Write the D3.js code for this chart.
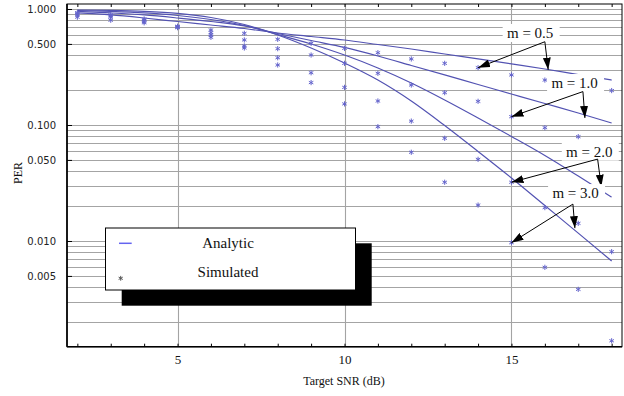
<!DOCTYPE html>
<html><head><meta charset="utf-8">
<script src="https://cdnjs.cloudflare.com/ajax/libs/d3/7.8.5/d3.min.js"></script>
<style>body{margin:0;background:#fff}svg{display:block}</style>
</head><body><svg id="c" width="624" height="396"></svg>
<script>
// ---------- data ----------
const snr = [2,3,4,5,6,7,8,9,10,11,12,13,14,15,16,17,18];
const mValues = ["0.5","1.0","2.0","3.0"];
const analytic05 = [0.924,0.888,0.836,0.780,0.728,0.679,0.621,0.579,0.540,0.494,0.452,0.409,0.371,0.336,0.304,0.272,0.244];
const analytic10 = [0.952,0.924,0.888,0.836,0.780,0.714,0.615,0.535,0.466,0.393,0.326,0.270,0.2234,0.185,0.1532,0.1269,0.1041];
const analytic20 = [0.971,0.952,0.924,0.879,0.812,0.721,0.603,0.499,0.401,0.310,0.230,0.1643,0.1149,0.0796,0.0546,0.0363,0.0239];
const analytic30 = [0.980,0.971,0.952,0.915,0.845,0.735,0.597,0.461,0.342,0.244,0.161,0.0990,0.0591,0.0349,0.0202,0.0117,0.00672];
const sim05 = [0.85,0.80,0.76,0.69,0.57,0.461,0.548,0.506,0.458,0.420,0.371,0.340,0.312,0.270,0.244,0.221,0.198];
const sim10 = [0.89,0.85,0.78,0.70,0.597,0.480,0.455,0.401,0.340,0.279,0.221,0.190,0.160,0.118,0.0948,0.0793,0.0633];
const sim20 = [0.91,0.87,0.80,0.70,0.625,0.541,0.380,0.282,0.211,0.161,0.108,0.0768,0.0506,0.0321,0.0194,0.0142,0.00809];
const sim30 = [0.93,0.89,0.82,0.71,0.659,0.617,0.329,0.232,0.152,0.0967,0.0582,0.0321,0.0204,0.00967,0.00593,0.00383,0.00138];
const xTickLabels = [5,10,15];
const yTickLabels = [1,0.5,0.1,0.05,0.01,0.005];
const legendLabels = ["Analytic","Simulated"];
// annotation: label position, arrow origin, tip on simulated point, tip on curve (data units)
const annotations = [
  {text:"m = 0.5", lx:15.56, ly:0.621, ox:16.0, oy:0.522, t1x:14, t1y:0.312, t2x:16.1, t2y:0.300},
  {text:"m = 1.0", lx:16.89, ly:0.230, ox:17.14, oy:0.194, t1x:15, t1y:0.118, t2x:17.2, t2y:0.115},
  {text:"m = 2.0", lx:17.33, ly:0.0589, ox:17.58, oy:0.0508, t1x:15, t1y:0.0321, t2x:17.69, t2y:0.0294},
  {text:"m = 3.0", lx:16.92, ly:0.0259, ox:16.84, oy:0.0208, t1x:15, t1y:0.00967, t2x:16.9, t2y:0.0129}
];

// ---------- layout ----------
const W=624,H=396, L=67, R=622, T=4, B=346.7;
const svg = d3.select("#c");
const x = d3.scaleLinear().domain([1.69,18.31]).range([L,R]);
const y = d3.scaleLog().domain([0.001227,1.104]).range([B,T]);

const curveCol="#5252b2", ptCol="#6464cc", gridCol="#a4a4a4";

// grid
const gridVals=[];
[0.001,0.01,0.1,1].forEach(d=>{for(let k=1;k<10;k++){const v=k*d; if(v>=0.00123&&v<=1.1) gridVals.push(v);}});
svg.append("g").selectAll("line").data(gridVals).join("line")
  .attr("x1",L).attr("x2",R).attr("y1",d=>Math.round(y(d))+0.5).attr("y2",d=>Math.round(y(d))+0.5)
  .attr("stroke",gridCol).attr("stroke-width",1.1);
svg.append("g").selectAll("line").data(xTickLabels).join("line")
  .attr("x1",d=>Math.round(x(d))+0.5).attr("x2",d=>Math.round(x(d))+0.5).attr("y1",T).attr("y2",B)
  .attr("stroke",gridCol).attr("stroke-width",1.1);

// curves
const line = d3.line().x((d,i)=>x(snr[i])).y(d=>y(d)).curve(d3.curveMonotoneX);
[analytic05,analytic10,analytic20,analytic30].forEach(s=>{
  svg.append("path").attr("d",line(s)).attr("fill","none").attr("stroke",curveCol).attr("stroke-width",1.2);
});

// asterisks
function star(g,cx,cy,r,col){
  for(let a=0;a<3;a++){
    const ang=Math.PI/2+a*Math.PI/3;
    g.append("line").attr("x1",cx+r*Math.cos(ang)).attr("y1",cy+r*Math.sin(ang))
      .attr("x2",cx-r*Math.cos(ang)).attr("y2",cy-r*Math.sin(ang))
      .attr("stroke",col).attr("stroke-width",1);
  }
}
const pg = svg.append("g");
[sim05,sim10,sim20,sim30].forEach(s=>s.forEach((v,i)=>star(pg,x(snr[i]),y(v),2.6,ptCol)));

// frame
svg.append("rect").attr("x",L).attr("y",T).attr("width",R-L).attr("height",B-T)
  .attr("fill","none").attr("stroke","#000").attr("stroke-width",1);
svg.append("line").attr("x1",L).attr("x2",L).attr("y1",T).attr("y2",B).attr("stroke","#000").attr("stroke-width",1.6);
svg.append("line").attr("x1",L).attr("x2",R).attr("y1",B).attr("y2",B).attr("stroke","#000").attr("stroke-width",1.6);

// axes ticks
const xMinor = d3.range(2,19);
svg.append("g").attr("transform",`translate(0,${B})`)
  .call(d3.axisBottom(x).tickValues(xMinor).tickSize(-3).tickFormat(""))
  .call(g=>g.select(".domain").remove()).selectAll("line").attr("stroke","#000");
svg.append("g").attr("transform",`translate(0,${T})`)
  .call(d3.axisTop(x).tickValues(xMinor).tickSize(-3).tickFormat(""))
  .call(g=>g.select(".domain").remove()).selectAll("line").attr("stroke","#000");
svg.append("g").attr("transform",`translate(0,${B})`)
  .call(d3.axisBottom(x).tickValues(xTickLabels).tickSize(0).tickPadding(5).tickFormat(d3.format("d")))
  .call(g=>g.select(".domain").remove())
  .call(g=>g.selectAll("text").attr("font-family","Liberation Serif, serif").attr("font-size",13).attr("fill","#111").attr("dy","0.95em"));
svg.append("g").attr("transform",`translate(${L},0)`)
  .call(d3.axisLeft(y).tickValues(yTickLabels).tickSize(-5).tickPadding(11).tickFormat(d3.format(".3f")))
  .call(g=>g.select(".domain").remove())
  .call(g=>g.selectAll("line").attr("stroke","#000"))
  .call(g=>g.selectAll("text").attr("font-family","DejaVu Sans, sans-serif").attr("font-size",10).attr("fill","#222"));

// axis titles
svg.append("text").attr("x",344).attr("y",385).attr("text-anchor","middle")
  .attr("font-family","Liberation Serif, serif").attr("font-size",12).attr("fill","#111").text("Target SNR (dB)");
svg.append("text").attr("transform","translate(22,173) rotate(-90)").attr("text-anchor","middle")
  .attr("font-family","Liberation Serif, serif").attr("font-size",12).attr("fill","#111").text("PER");

// legend
const lg = svg.append("g");
lg.append("rect").attr("x",121.7).attr("y",243.3).attr("width",250).attr("height",62.4).attr("fill","#000");
lg.append("rect").attr("x",105.5).attr("y",228).attr("width",250).attr("height",62).attr("fill","#fff").attr("stroke","#000").attr("stroke-width",1);
lg.append("line").attr("x1",119).attr("x2",131.7).attr("y1",243.3).attr("y2",243.3).attr("stroke","#6464f0").attr("stroke-width",1.5);
star(lg,120.7,278.3,2.4,"#555");
legendLabels.forEach((t,i)=>{
  lg.append("text").attr("x",228).attr("y",248+i*28.7).attr("text-anchor","middle")
    .attr("font-family","Liberation Serif, serif").attr("font-size",15).attr("fill","#111").text(t);
});

// annotations
const defs = svg.append("defs");
defs.append("marker").attr("id","ah").attr("viewBox","0 0 12 8").attr("refX",12).attr("refY",4)
  .attr("markerWidth",12).attr("markerHeight",8).attr("markerUnits","userSpaceOnUse").attr("orient","auto")
  .append("path").attr("d","M0,0L12,4L0,8Z").attr("fill","#000");
const ag = svg.append("g");
annotations.forEach(a=>{
  const cx=x(a.lx), cy=y(a.ly);
  const tw=47, th=18;
  ag.append("rect").attr("x",cx-tw/2-4).attr("y",cy-th/2).attr("width",tw+10).attr("height",th).attr("fill","#fff");
  ag.append("text").attr("x",cx).attr("y",cy+5).attr("text-anchor","middle")
    .attr("font-family","Liberation Serif, serif").attr("font-size",15).attr("fill","#111").text(a.text);
  [[a.t1x,a.t1y],[a.t2x,a.t2y]].forEach(([tx,ty])=>{
    ag.append("line").attr("x1",x(a.ox)).attr("y1",y(a.oy)).attr("x2",x(tx)).attr("y2",y(ty))
      .attr("stroke","#000").attr("stroke-width",1).attr("marker-end","url(#ah)");
  });
});
</script></body></html>
